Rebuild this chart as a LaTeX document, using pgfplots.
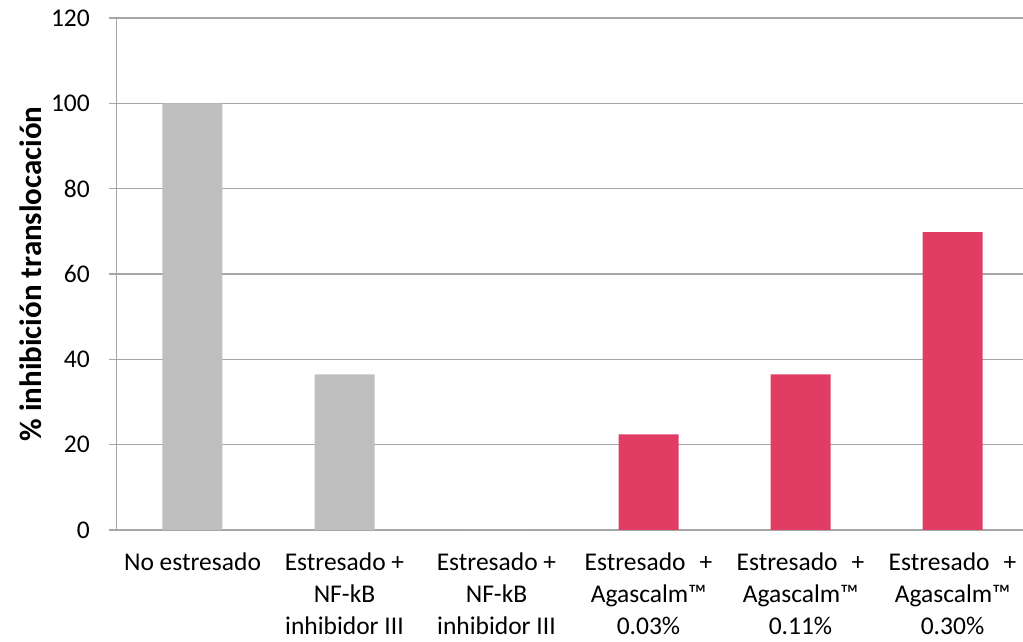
\documentclass[border=0pt]{standalone}
\usepackage{fontspec}
\setmainfont{Carlito}
\usepackage{pgfplots}
\pgfplotsset{compat=1.18}
\definecolor{barGrey}{HTML}{BFBFBF}
\definecolor{barPink}{HTML}{E03C64}
\definecolor{gridG}{HTML}{A6A6A6}
\begin{document}
\begin{tikzpicture}
\begin{axis}[
  at={(0pt,0pt)}, anchor=south west,
  scale only axis, width=906.5pt, height=512pt,
  xmin=-0.5, xmax=5.4638, ymin=0, ymax=120,
  axis x line*=bottom, axis y line*=left,
  axis line style={gridG, line width=1.2pt, -},
  ytick={0,20,...,120},
  ymajorgrids, grid style={gridG, line width=1.2pt},
  xtick={0,1,2,3,4,5},
  major x tick style={draw=none},
  extra x ticks={-0.5,0.5,1.5,2.5,3.5,4.5},
  extra x tick labels={},
  extra x tick style={major tick length=7pt, tick align=outside, major tick style={gridG, line width=1.2pt}, grid=none},
  major tick length=7pt, tick align=outside,
  y tick style={gridG, line width=1.2pt},
  /pgf/number format/assume math mode=true,
  tick label style={font=\fontsize{25.5}{32}\selectfont},
  yticklabel style={anchor=east, inner sep=0pt, xshift=-19.5pt},
  xticklabel style={anchor=north, inner sep=0pt, align=center, yshift=-16pt},
  xticklabels={No estresado,
    Estresado +\\NF-kB\\inhibidor III,
    Estresado +\\NF-kB\\inhibidor III,
    Estresado\hspace{14pt}+\\Agascalm™\\0.03\%,
    Estresado\hspace{14pt}+\\Agascalm™\\0.11\%,
    Estresado\hspace{14pt}+\\Agascalm™\\0.30\%},
  ylabel={\bfseries\% inhibición translocación},
  every axis y label/.style={at={(axis description cs:0,0.5)}, rotate=90, anchor=center, yshift=85.5pt, font=\fontsize{31}{36}\selectfont},
  ybar, bar width=60pt, bar shift=0pt,
]
\addplot[fill=barGrey, draw=none] coordinates {(0,100) (1,36.5) (2,0)};
\addplot[fill=barPink, draw=none] coordinates {(3,22.4) (4,36.5) (5,69.8)};
\end{axis}
\pgfresetboundingbox
\path[use as bounding box] (-116.5pt,-112pt) rectangle (906.5pt,530pt);
\end{tikzpicture}
\end{document}
